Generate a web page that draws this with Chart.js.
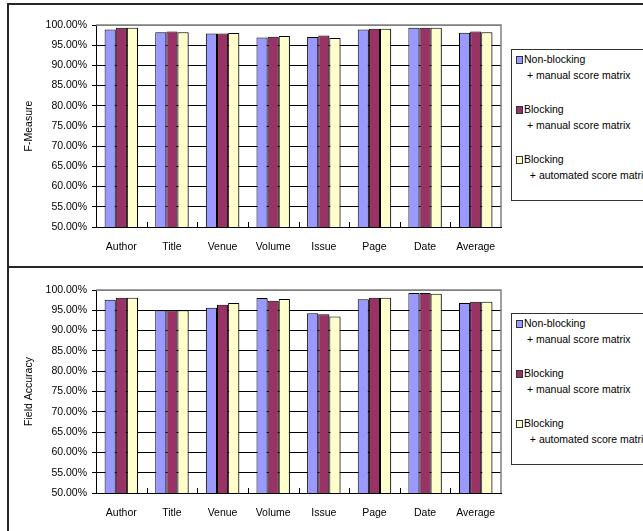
<!DOCTYPE html>
<html>
<head>
<meta charset="utf-8">
<script src="https://cdn.jsdelivr.net/npm/chart.js@4/dist/chart.umd.min.js"></script>
<style>
  html, body { margin: 0; padding: 0; background: #fff; width: 643px; height: 531px; overflow: hidden; }
  .frame { position: absolute; left: 7px; width: 720px; border: 2px solid #262626; box-sizing: border-box; }
  #frame1 { top: 3px; height: 265px; }
  #frame2 { top: 266px; height: 300px; }
  .plot { position: absolute; left: 0; width: 643px; }
  #wrap1 { top: 0; height: 265px; }
  #wrap2 { top: 265px; height: 266px; }
  .legend { position: absolute; left: 511px; width: 200px; height: 152px; border: 1px solid #333;
            box-sizing: border-box; background: #fff;
            font: 10.5px "Liberation Sans", Arial, sans-serif; color: #000; }
  #legend1 { top: 49px; }
  #legend2 { top: 313px; }
  .entry { position: absolute; left: 0; white-space: pre; line-height: 15.5px; }
  .swatch { position: absolute; left: 4px; top: 4px; width: 5px; height: 6px; border: 1px solid #333; }
  .txt { position: absolute; left: 12px; top: 0; }
</style>
</head>
<body>
<div class="frame" id="frame1"></div>
<div class="frame" id="frame2"></div>
<div class="plot" id="wrap1"><canvas id="fmeasure"></canvas></div>
<div class="plot" id="wrap2"><canvas id="accuracy"></canvas></div>
<div class="legend" id="legend1"></div>
<div class="legend" id="legend2"></div>
<script>
// Field categories along the x axis
const fields = ['Author', 'Title', 'Venue', 'Volume', 'Issue', 'Page', 'Date', 'Average'];

// Method variants (legend entries)
const methodNames = [
  'Non-blocking\n + manual score matrix',
  'Blocking\n + manual score matrix',
  'Blocking\n  + automated score matrix'
];
const methodColors = ['#9999FF', '#993366', '#FFFFCC'];

// F-Measure (%) per field, one array per method
const fNonBlockingManual = [98.9, 98.2, 97.9, 96.9, 97.0, 98.9, 99.3, 98.1];
const fBlockingManual    = [99.3, 98.4, 97.9, 97.1, 97.4, 99.1, 99.3, 98.4];
const fBlockingAuto      = [99.3, 98.2, 98.0, 97.3, 96.8, 99.1, 99.3, 98.2];

// Field accuracy (%) per field, one array per method
const aNonBlockingManual = [97.6, 95.0, 95.6, 98.0, 94.3, 97.7, 99.25, 96.8];
const aBlockingManual    = [98.1, 95.0, 96.35, 97.35, 94.0, 98.1, 99.25, 97.1];
const aBlockingAuto      = [98.1, 95.0, 96.8, 97.8, 93.45, 98.1, 99.1, 97.1];

// Y axis tick range
const yMin = 50, yMax = 100, yStep = 5;

const FONT = { family: '"Liberation Sans", Arial, sans-serif', size: 10.5 };

// Plot-area frame: gray top/right edges, plus short category-boundary ticks on the x axis
const frameAndTicks = {
  id: 'frameAndTicks',
  beforeDatasetsDraw(chart) {
    const { ctx, chartArea: a } = chart;
    ctx.save();
    ctx.strokeStyle = '#808080';
    ctx.lineWidth = 1.5;
    ctx.beginPath();
    ctx.moveTo(a.left, a.top);
    ctx.lineTo(a.right, a.top);
    ctx.lineTo(a.right, a.bottom);
    ctx.stroke();
    ctx.restore();
    // soft drop shadow for the bars
    ctx.save();
    ctx.shadowColor = 'rgba(0,0,0,0.35)';
    ctx.shadowOffsetX = 2;
    ctx.shadowOffsetY = 1;
    ctx.shadowBlur = 0;
  },
  afterDatasetsDraw(chart) {
    const { ctx, chartArea: a, scales: { x } } = chart;
    ctx.restore();
    ctx.save();
    ctx.strokeStyle = '#000';
    ctx.lineWidth = 1;
    const n = chart.data.labels.length;
    for (let i = 1; i < n; i++) {
      const px = Math.round((x.getPixelForValue(i - 1) + x.getPixelForValue(i)) / 2) + 0.5;
      ctx.beginPath();
      ctx.moveTo(px, a.bottom);
      ctx.lineTo(px, a.bottom - 5);
      ctx.stroke();
    }
    ctx.restore();
  }
};

function buildChart(canvasId, axisTitle, series) {
  return new Chart(document.getElementById(canvasId), {
    type: 'bar',
    data: {
      labels: fields,
      datasets: series.map((vals, i) => ({
        label: methodNames[i],
        data: vals,
        backgroundColor: methodColors[i],
        borderColor: '#000',
        borderWidth: 1,
        borderSkipped: 'bottom',
        categoryPercentage: 0.66,
        barPercentage: 1.0
      }))
    },
    options: {
      responsive: true,
      maintainAspectRatio: false,
      animation: false,
      events: [],
      layout: { padding: { left: 10, right: 142, top: 25, bottom: 0 } },
      plugins: { legend: { display: false }, tooltip: { enabled: false } },
      scales: {
        x: {
          grid: { display: false },
          border: { display: true, color: '#000', width: 1 },
          ticks: { color: '#000', font: FONT, padding: 6, maxRotation: 0 },
          afterFit(scale) { scale.height = 38; }
        },
        y: {
          min: yMin, max: yMax,
          grid: {
            color: ctx => (ctx.tick && ctx.tick.value === yMax) ? '#808080' : '#000',
            lineWidth: 1,
            tickLength: 4,
            tickColor: '#000'
          },
          border: { display: true, color: '#000', width: 1 },
          ticks: {
            stepSize: yStep, color: '#000', font: FONT, padding: 5,
            callback: v => v.toFixed(2) + '%'
          },
          title: { display: true, text: axisTitle, color: '#000', font: FONT, padding: { top: 13, bottom: 0 } },
          afterFit(scale) { scale.width = 86; }
        }
      }
    },
    plugins: [frameAndTicks]
  });
}

function buildLegend(boxId, chart) {
  const box = document.getElementById(boxId);
  chart.data.datasets.forEach((ds, i) => {
    const entry = document.createElement('div');
    entry.className = 'entry';
    entry.style.top = (2 + i * 50) + 'px';
    const sw = document.createElement('span');
    sw.className = 'swatch';
    sw.style.background = ds.backgroundColor;
    const tx = document.createElement('span');
    tx.className = 'txt';
    tx.textContent = ds.label;
    entry.appendChild(sw);
    entry.appendChild(tx);
    box.appendChild(entry);
  });
}

const fChart = buildChart('fmeasure', 'F-Measure', [fNonBlockingManual, fBlockingManual, fBlockingAuto]);
const aChart = buildChart('accuracy', 'Field Accuracy', [aNonBlockingManual, aBlockingManual, aBlockingAuto]);
buildLegend('legend1', fChart);
buildLegend('legend2', aChart);
</script>
</body>
</html>
